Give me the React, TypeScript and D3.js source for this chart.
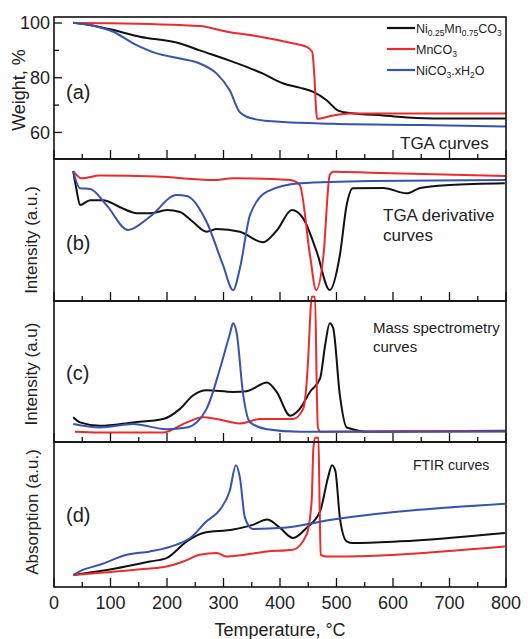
import React from 'react';
import * as d3 from 'd3';

type P = [number, number];

// x axis (temperature, °C)
const xTickLabels = [0, 100, 200, 300, 400, 500, 600, 700, 800];
const xMinorTicks = [50, 150, 250, 350, 450, 550, 650, 750];
const weightTicks = [60, 80, 100];
const weightMinor = [70, 90];

const seriesNames = ['Ni0.25Mn0.75CO3', 'MnCO3', 'NiCO3.xH2O'];
const colors = ['#111111', '#ee2a2a', '#3553b0'];

// (a) TGA, weight %
const tgaNiMn: P[] = [[34,100.1],[70,99],[99,97.7],[152,95],[223,92.5],[258,90],[317,85.8],[370,81.5],[406,77.9],[435,76.4],[459,74.8],[483,71.7],[503,68],[524,67.1],[583,66.2],[642,65.3],[700,65.1],[800,65.1]];
const tgaMn: P[] = [[34,100],[100,99.9],[170,99.6],[258,98.9],[306,96.8],[365,95],[418,92.8],[447,91.3],[457,89.5],[461,80],[464,68],[466,65],[494,66.2],[524,66.9],[650,66.9],[800,66.9]];
const tgaNi: P[] = [[34,100.1],[70,99],[105,96.8],[141,92.5],[182,88.9],[223,87],[258,85.2],[288,81.5],[311,75.4],[329,67.4],[353,65],[406,63.8],[494,63.2],[650,62.7],[800,62.2]];

// (b) TGA derivative, a.u.
const dtgNiMn: P[] = [[34,91.5],[40,78],[46,67.6],[64,71],[87,71],[117,66],[147,61.8],[170,61.8],[200,64],[223,62.7],[245,56],[270,48.8],[288,50.7],[329,48.8],[370,41.3],[395,50],[421,64],[441,58.2],[465,34.7],[488,7.7],[506,32.4],[518,67.6],[529,79.4],[583,79.6],[624,75.8],[648,79.6],[701,81.7],[798,82.9]];
const dtgMn: P[] = [[34,91.5],[49,86.4],[81,88.3],[182,87.6],[282,85.2],[317,86.4],[418,85.2],[435,81.7],[453,32.4],[464,7.7],[477,32.4],[488,88.7],[494,91],[560,90.4],[800,88]];
const dtgNi: P[] = [[34,91.5],[46,79.4],[64,78.9],[94,67],[131,50],[170,59.4],[217,74.6],[235,74],[270,55.8],[299,25.4],[317,7.7],[329,23],[347,60.6],[377,77],[435,82.9],[560,84.5],[800,85.2]];

// (c) Mass spectrometry, a.u.
const msNiMn: P[] = [[34,17.5],[46,13.9],[81,11.5],[140,13.9],[193,16.3],[223,23.5],[246,33],[270,36.7],[317,35.5],[341,36],[377,42.2],[394,35.5],[418,18.7],[435,23.5],[453,35.5],[471,45.1],[480,69],[488,84.2],[494,81],[506,33],[518,10.3],[560,7.3],[650,7.6],[800,7.9]];
const msMn: P[] = [[37,7.2],[81,6.7],[193,6.7],[235,13.9],[264,17.5],[288,16.3],[329,13.2],[365,16.3],[423,16.3],[441,23.5],[450,60],[453,85],[456,103],[462,103],[465,40],[467,10.3],[472,7.3],[550,7.5],[650,7.8],[800,7.6]];
const msNi: P[] = [[34,12.7],[81,10.3],[140,12.7],[199,9.1],[235,10.3],[270,23.5],[294,52.3],[311,76.3],[317,84.2],[323,78],[335,33],[347,13.9],[377,9.1],[435,7.3],[600,7.2],[800,7.4]];

// (d) FTIR, a.u.
const irNiMn: P[] = [[34,8.3],[111,13],[170,17.6],[199,19.9],[235,31.5],[264,37.3],[317,39.6],[353,43],[377,46.5],[400,40.8],[423,33.8],[447,40.8],[471,52.3],[485,75.5],[492,84],[498,80],[506,47.7],[518,31.5],[529,30.3],[612,31.5],[798,37.3]];
const irMn: P[] = [[34,8.3],[140,11.8],[199,14.1],[229,17.6],[258,22.2],[288,23.4],[306,21],[377,24.5],[423,25.7],[447,36.1],[456,59.2],[459,95],[462,103],[468,103],[470,60],[472,22.2],[483,21],[798,28]];
const irNi: P[] = [[34,8.3],[51,11.8],[81,15.3],[129,22.2],[170,24.5],[217,29.2],[241,33.8],[270,45.3],[294,53.5],[311,66.2],[322,84],[329,75.5],[338,47.7],[352,40],[406,40.8],[494,46.5],[798,57.4]];

const W = 528;
const H = 639;
const L = 54;
const R = 506;
const FONT = 'Liberation Sans, Arial, sans-serif';
const TXT = '#222';

const x = d3.scaleLinear().domain([0, 800]).range([L, R]);

interface Panel {
  top: number;
  bottom: number;
  domain: [number, number];
  data: P[][];
  letter: string;
  ylabel: string;
  labelX: number;
  labelY: number;
  letterY: number;
}

const panels: Panel[] = [
  { top: 17, bottom: 159, domain: [50.3, 102.2], data: [tgaNiMn, tgaMn, tgaNi], letter: '(a)', ylabel: 'Weight, %', labelX: 19, labelY: 90, letterY: 99 },
  { top: 159, bottom: 301, domain: [0, 100], data: [dtgNiMn, dtgMn, dtgNi], letter: '(b)', ylabel: 'Intensity (a.u.)', labelX: 31, labelY: 240, letterY: 250 },
  { top: 301, bottom: 442, domain: [0, 100], data: [msNiMn, msMn, msNi], letter: '(c)', ylabel: 'Intensity (a.u)', labelX: 31, labelY: 374, letterY: 380 },
  { top: 442, bottom: 587, domain: [0, 100], data: [irNiMn, irMn, irNi], letter: '(d)', ylabel: 'Absorption (a.u.)', labelX: 32, labelY: 512, letterY: 522 },
];

export default function App() {
  return (
    <svg width={W} height={H} style={{ position: 'absolute', left: 0, top: 0, background: '#fff' }} fontFamily={FONT}>
      <rect x={0} y={0} width={W} height={H} fill="#fff" />
      {panels.map((p, pi) => {
        const y = d3.scaleLinear().domain(p.domain).range([p.bottom, p.top]);
        const line = d3.line<P>().x(d => x(d[0])).y(d => y(d[1])).curve(d3.curveMonotoneX);
        return (
          <g key={pi}>
            {p.data.map((s, si) => (
              <path key={si} d={line(s) || ''} fill="none" stroke={colors[si]} strokeWidth={2} strokeLinejoin="round" />
            ))}
            <rect x={L} y={p.top} width={R - L} height={p.bottom - p.top} fill="none" stroke="#111" strokeWidth={1.6} />
            {xTickLabels.map(t => (
              <line key={'M' + t} x1={x(t)} x2={x(t)} y1={p.bottom} y2={p.bottom - 9} stroke="#111" strokeWidth={1.3} />
            ))}
            {xMinorTicks.map(t => (
              <line key={'m' + t} x1={x(t)} x2={x(t)} y1={p.bottom} y2={p.bottom - 5} stroke="#111" strokeWidth={1.3} />
            ))}
            {pi === 0 && weightTicks.map(t => (
              <g key={'w' + t}>
                <line x1={L} x2={L + 8} y1={y(t)} y2={y(t)} stroke="#111" strokeWidth={1.3} />
                <text x={L - 4} y={y(t)} dy="0.36em" textAnchor="end" fontSize={18} fill={TXT}>{t}</text>
              </g>
            ))}
            {pi === 0 && weightMinor.map(t => (
              <line key={'wm' + t} x1={L} x2={L + 5} y1={y(t)} y2={y(t)} stroke="#111" strokeWidth={1.3} />
            ))}
            <text transform={`translate(${p.labelX},${p.labelY}) rotate(-90)`} textAnchor="middle" dy="0.36em" fontSize={pi === 0 ? 18 : 17} fill={TXT}>{p.ylabel}</text>
            <text x={66} y={p.letterY} fontSize={20} fill={TXT}>{p.letter}</text>
          </g>
        );
      })}
      {/* panel annotations */}
      <text x={400} y={149} fontSize={17} fill={TXT}>TGA curves</text>
      <text x={383} y={221} fontSize={17} fill={TXT}>TGA derivative</text>
      <text x={383} y={241} fontSize={17} fill={TXT}>curves</text>
      <text x={373} y={333} fontSize={15} fill={TXT}>Mass spectrometry</text>
      <text x={373} y={352} fontSize={15} fill={TXT}>curves</text>
      <text x={413} y={470} fontSize={14} fill={TXT}>FTIR curves</text>
      {/* legend */}
      {seriesNames.map((n, i) => {
        const ly = 28 + i * 21;
        return (
          <g key={n}>
            <line x1={387} x2={415} y1={ly} y2={ly} stroke={colors[i]} strokeWidth={2.2} />
            <text x={416} y={ly + 4.5} fontSize={12.5} fill={TXT}>
              {i === 0 && (<>Ni<tspan fontSize={8.5} dy={3}>0.25</tspan><tspan dy={-3}>Mn</tspan><tspan fontSize={8.5} dy={3}>0.75</tspan><tspan dy={-3}>CO</tspan><tspan fontSize={8.5} dy={3}>3</tspan></>)}
              {i === 1 && (<>MnCO<tspan fontSize={8.5} dy={3}>3</tspan></>)}
              {i === 2 && (<>NiCO<tspan fontSize={8.5} dy={3}>3</tspan><tspan dy={-3}>.xH</tspan><tspan fontSize={8.5} dy={3}>2</tspan><tspan dy={-3}>O</tspan></>)}
            </text>
          </g>
        );
      })}
      {/* x axis labels */}
      {xTickLabels.map(t => (
        <text key={'xl' + t} x={x(t)} y={609} textAnchor="middle" fontSize={18} fill={TXT}>{t}</text>
      ))}
      <text x={280} y={636} textAnchor="middle" fontSize={18} fill={TXT}>Temperature, °C</text>
    </svg>
  );
}
